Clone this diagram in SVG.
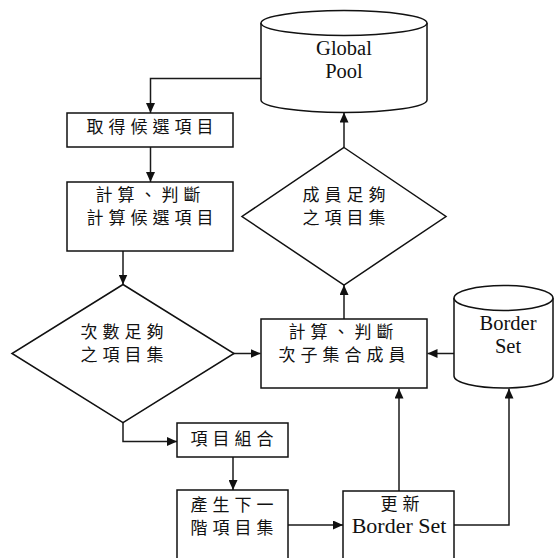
<svg xmlns="http://www.w3.org/2000/svg" width="556" height="558" viewBox="0 0 556 558">
<style>
.shape{fill:#fff;stroke:#111;stroke-width:1.5}
.conn{fill:none;stroke:#1a1a1a;stroke-width:1.5}
.zh{font-family:"Noto Sans CJK TC","Noto Sans CJK SC",sans-serif;font-size:17px;letter-spacing:5px;text-anchor:middle;fill:#111}
.en{font-family:"Liberation Serif",serif;font-size:20.5px;text-anchor:middle;fill:#111}
.en2{font-family:"Liberation Serif",serif;font-size:22px;text-anchor:middle;fill:#111}
</style>
<defs>
<marker id="arr" markerWidth="10" markerHeight="9" refX="10" refY="4.5" orient="auto" markerUnits="userSpaceOnUse">
<path d="M0,0 L10,4.5 L0,9 z" fill="#111"/>
</marker>
</defs>
<rect width="556" height="558" fill="#fff"/>
<g id="connectors" class="conn" marker-end="url(#arr)">
<path d="M261,78.5 H150.5 V113"/>
<path d="M150.5,147 V182"/>
<path d="M123,251 V284.5"/>
<path d="M233,353.5 H260.5"/>
<path d="M344,319 V285"/>
<path d="M344,147.5 V112.5"/>
<path d="M454,353.5 H427.5"/>
<path d="M123,422.7 V441.5 H177"/>
<path d="M233,457 V490"/>
<path d="M288,525 H343"/>
<path d="M399,491 V388.5"/>
<path d="M454,525 H509 V388.5"/>
</g>
<g id="global-pool">
<path class="shape" d="M261,23 V100 A83,12.5 0 0 0 427,100 V23"/>
<ellipse class="shape" cx="344" cy="23" rx="83" ry="12.5"/>
<text class="en" x="344" y="54.5">Global</text>
<text class="en" x="344" y="77.5">Pool</text>
</g>
<g id="get-candidates">
<rect class="shape" x="67" y="113" width="166" height="34"/>
<text class="zh" x="152.5" y="133">取得候選項目</text>
</g>
<g id="compute-candidates">
<rect class="shape" x="67" y="182" width="166" height="69"/>
<text class="zh" x="150.5" y="201">計算、判斷</text>
<text class="zh" x="152.5" y="224">計算候選項目</text>
</g>
<g id="count-enough">
<polygon class="shape" points="123,284.5 234,353.5 123,422.7 12,353.5"/>
<text class="zh" x="124.5" y="338">次數足夠</text>
<text class="zh" x="124.5" y="361">之項目集</text>
</g>
<g id="member-enough">
<polygon class="shape" points="344,147.5 446,216.5 344,285 242,216.5"/>
<text class="zh" x="346.5" y="201">成員足夠</text>
<text class="zh" x="346.5" y="224">之項目集</text>
</g>
<g id="compute-subset">
<rect class="shape" x="261" y="319" width="166" height="69"/>
<text class="zh" x="343.5" y="338">計算、判斷</text>
<text class="zh" x="344.5" y="361">次子集合成員</text>
</g>
<g id="border-set">
<path class="shape" d="M454,298 V376 A49.5,12 0 0 0 553,376 V298"/>
<ellipse class="shape" cx="503.5" cy="298" rx="49.5" ry="12.5"/>
<text class="en" x="508" y="330">Border</text>
<text class="en" x="508" y="353">Set</text>
</g>
<g id="item-combine">
<rect class="shape" x="177" y="423" width="111" height="34"/>
<text class="zh" x="234.5" y="445">項目組合</text>
</g>
<g id="generate-next">
<rect class="shape" x="177" y="490" width="111" height="75"/>
<text class="zh" x="234.5" y="511">產生下一</text>
<text class="zh" x="234.5" y="534">階項目集</text>
</g>
<g id="update-border">
<rect class="shape" x="343" y="491" width="111" height="75"/>
<text class="zh" x="402.5" y="510">更新</text>
<text class="en2" x="399" y="533">Border Set</text>
</g>
</svg>
